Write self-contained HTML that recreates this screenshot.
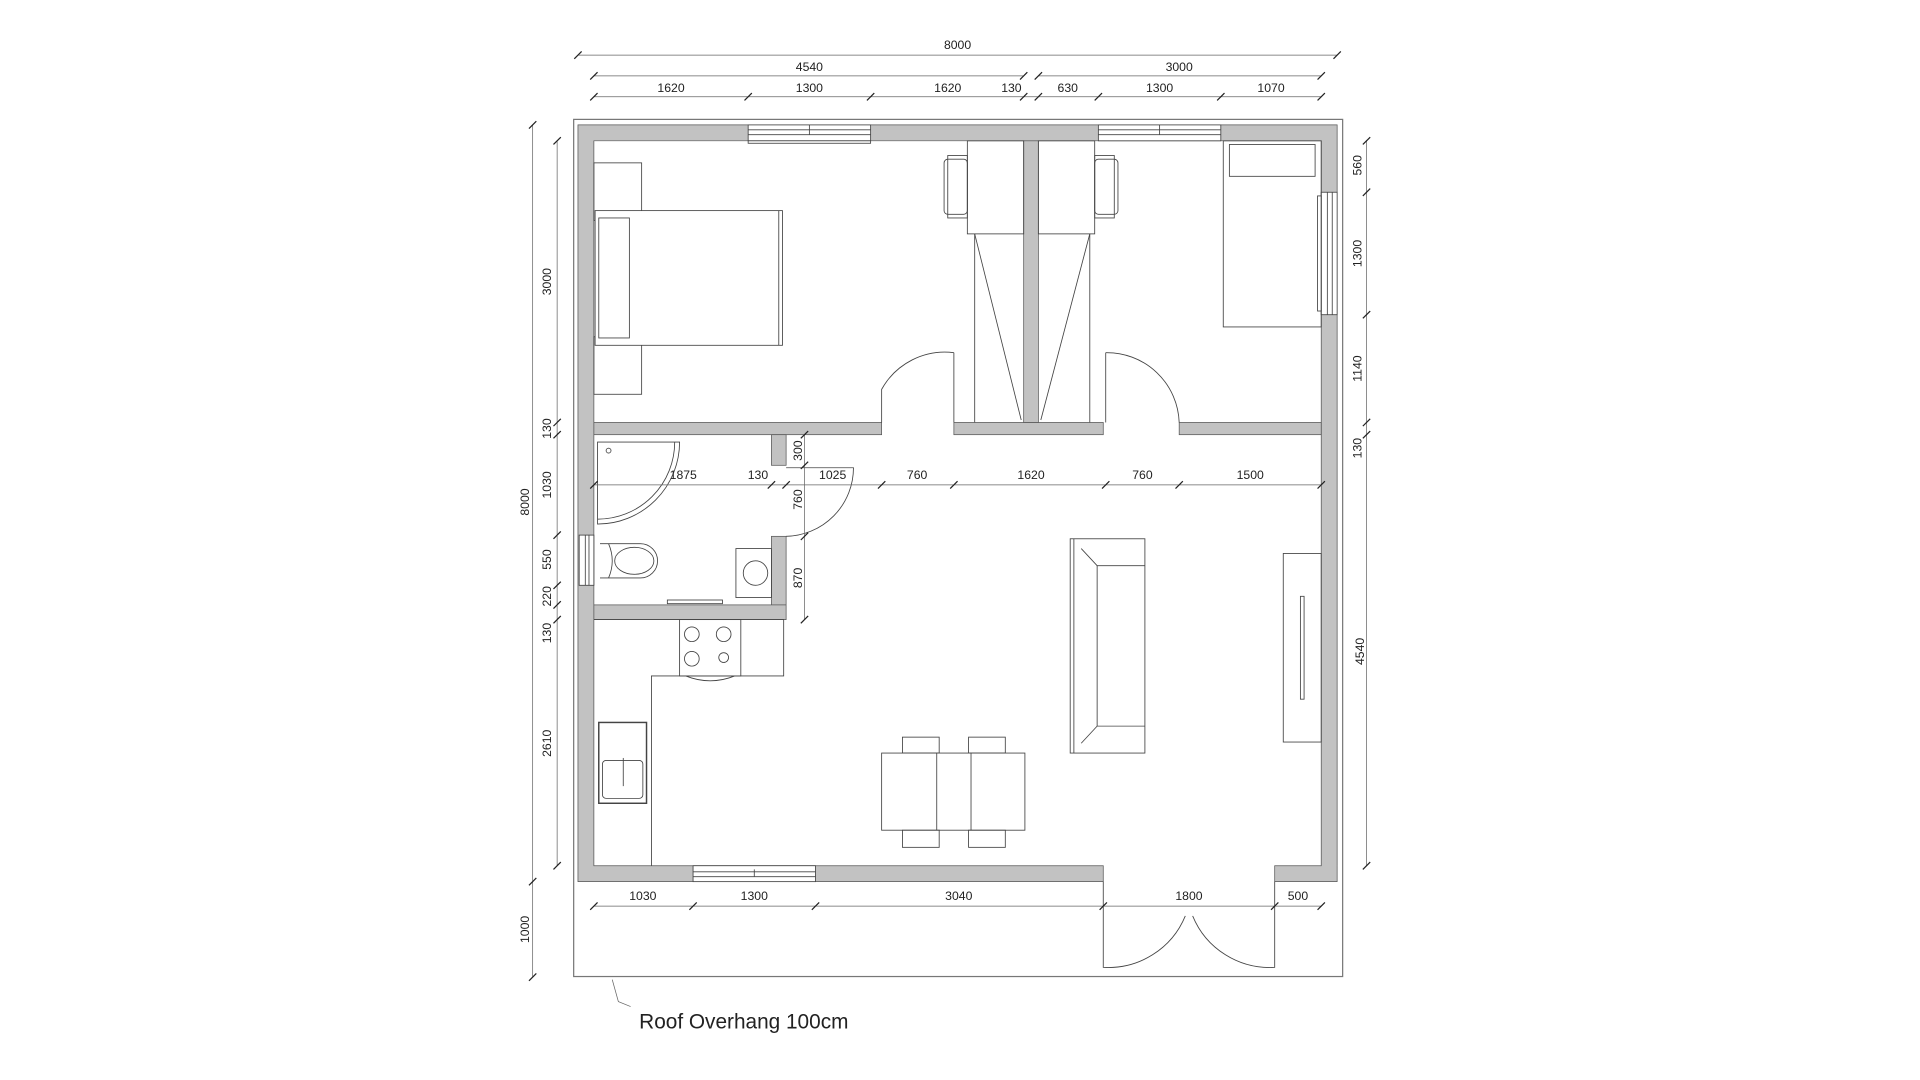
<!DOCTYPE html>
<html><head><meta charset="utf-8"><style>
html,body{margin:0;padding:0;background:#fff;width:1920px;height:1080px;overflow:hidden}
svg{display:block}
text{font-family:"Liberation Sans",sans-serif;font-size:10px;fill:#222}
</style></head><body>
<svg width="1920" height="1080" viewBox="0 0 1568 882" xmlns="http://www.w3.org/2000/svg">
<defs>
<g id="t"><line x1="-3" y1="3" x2="3" y2="-3" stroke="#222" stroke-width="1"/></g>
</defs>
<rect x="468.5" y="97.5" width="628" height="700" fill="none" stroke="#777" stroke-width="1"/>
<g fill="#c2c2c2" stroke="#555" stroke-width="0.6">
<path d="M472 102 H1092 V720 H1041 V707 H1079 V115 H485 V707 H901 V720 H472 Z"/>
<rect x="485" y="345" width="235" height="10"/>
<rect x="779" y="345" width="122" height="10"/>
<rect x="963" y="345" width="116" height="10"/>
<rect x="836" y="115" width="12" height="230"/>
<rect x="630" y="355" width="12" height="25"/>
<rect x="630" y="438" width="12" height="68"/>
<rect x="485" y="494" width="157" height="12"/>
</g>
<g fill="#fff" stroke="#444" stroke-width="0.7">
<rect x="611" y="102" width="100" height="13"/><line x1="611" y1="106" x2="711" y2="106"/><line x1="611" y1="110" x2="711" y2="110"/><line x1="661" y1="102" x2="661" y2="110"/>
<rect x="611" y="115" width="100" height="2"/>
<rect x="897" y="102" width="100" height="13"/><line x1="897" y1="106" x2="997" y2="106"/><line x1="897" y1="110" x2="997" y2="110"/><line x1="947" y1="102" x2="947" y2="110"/>
<rect x="566" y="707" width="100" height="13"/><line x1="566" y1="712" x2="666" y2="712"/><line x1="566" y1="716" x2="666" y2="716"/><line x1="616" y1="710" x2="616" y2="716"/>
<rect x="1079" y="157" width="13" height="100"/><line x1="1084" y1="157" x2="1084" y2="257"/><line x1="1088" y1="157" x2="1088" y2="257"/>
<rect x="1076" y="160" width="3" height="94"/>
<rect x="473" y="437" width="12" height="41"/><line x1="478" y1="437" x2="478" y2="478"/><line x1="481" y1="437" x2="481" y2="478"/>
</g>
<g fill="none" stroke="#444" stroke-width="0.7">
<rect x="485" y="133" width="39" height="47"/><rect x="485" y="275" width="39" height="47"/>
<rect x="486" y="172" width="153" height="110" fill="#fff"/><line x1="636" y1="172" x2="636" y2="282"/>
<rect x="489" y="178" width="25" height="98"/>
<rect x="790" y="115" width="46" height="76"/><rect x="848" y="115" width="46" height="76"/>
<line x1="796" y1="191" x2="796" y2="345"/><line x1="890" y1="191" x2="890" y2="345"/>
<line x1="796" y1="191" x2="834" y2="343"/><line x1="890" y1="191" x2="850" y2="343"/>
<rect x="771" y="130" width="19" height="45" rx="3"/><rect x="774" y="127" width="16" height="51"/>
<rect x="894" y="130" width="19" height="45" rx="3"/><rect x="894" y="127" width="16" height="51"/>
<rect x="999" y="115" width="80" height="152"/><rect x="1004" y="118" width="70" height="26"/>
<path d="M720 345 V318 A59 59 0 0 1 779 288"/><line x1="779" y1="288" x2="779" y2="345"/>
<path d="M963 345 A59 59 0 0 0 903 288"/><line x1="903" y1="288" x2="903" y2="345"/>
<path d="M642 438 A56 56 0 0 0 697 382 H642"/>
<path d="M901 720 V790 A68 68 0 0 0 968 748"/><path d="M1041 720 V790 A68 68 0 0 1 974 748"/>
<path d="M488 361 H555 A67 67 0 0 1 488 428 Z"/><path d="M551 361 A63 63 0 0 1 488 424"/>
<circle cx="497" cy="368" r="2"/>
<path d="M490 444 H523 A14 14 0 0 1 523 472 H490"/><ellipse cx="518" cy="458" rx="16" ry="11"/><path d="M497 444 Q503 458 497 472"/>
<rect x="601" y="448" width="29" height="40"/><circle cx="617" cy="468" r="10"/>
<rect x="545" y="490" width="45" height="3"/>
<path d="M485 506 H640 V552 H532 V707"/>
<rect x="555" y="506" width="50" height="46"/>
<circle cx="565" cy="518" r="6"/><circle cx="591" cy="518" r="6"/><circle cx="565" cy="538" r="6"/><circle cx="591" cy="537" r="4"/>
<path d="M560 552 Q580 560 600 552"/>
<rect x="489" y="590" width="39" height="66" stroke-width="1.2"/><rect x="492" y="621" width="33" height="31" rx="3"/><line x1="509" y1="619" x2="509" y2="642"/>
<rect x="720" y="615" width="117" height="63"/><line x1="765" y1="615" x2="765" y2="678"/><line x1="793" y1="615" x2="793" y2="678"/>
<rect x="737" y="602" width="30" height="13"/><rect x="791" y="602" width="30" height="13"/>
<rect x="737" y="678" width="30" height="14"/><rect x="791" y="678" width="30" height="14"/>
<rect x="874" y="440" width="61" height="175"/><line x1="877" y1="440" x2="877" y2="615"/>
<path d="M935 462 H896 V593 H935"/><line x1="883" y1="448" x2="896" y2="462"/><line x1="883" y1="607" x2="896" y2="593"/>
<rect x="1048" y="452" width="31" height="154"/><rect x="1062" y="487" width="3" height="84"/>
</g>
<g stroke="#666" stroke-width="0.6">
<line x1="472" y1="45" x2="1092" y2="45"/>
<line x1="485" y1="62" x2="836" y2="62"/><line x1="848" y1="62" x2="1079" y2="62"/>
<line x1="485" y1="79" x2="1079" y2="79"/>
<line x1="435" y1="102" x2="435" y2="798"/>
<line x1="455" y1="115" x2="455" y2="707"/>
<line x1="1116" y1="115" x2="1116" y2="707"/>
<line x1="485" y1="396" x2="1079" y2="396"/>
<line x1="657" y1="355" x2="657" y2="506"/>
<line x1="485" y1="740" x2="1079" y2="740"/>
<path d="M500 800 L505 818 L515 822" fill="none"/>
</g>
<g>
<use href="#t" x="472" y="45"/><use href="#t" x="1092" y="45"/>
<use href="#t" x="485" y="62"/><use href="#t" x="836" y="62"/><use href="#t" x="848" y="62"/><use href="#t" x="1079" y="62"/>
<use href="#t" x="485" y="79"/><use href="#t" x="611" y="79"/><use href="#t" x="711" y="79"/><use href="#t" x="836" y="79"/><use href="#t" x="848" y="79"/><use href="#t" x="897" y="79"/><use href="#t" x="997" y="79"/><use href="#t" x="1079" y="79"/>
<use href="#t" x="435" y="102"/><use href="#t" x="435" y="720"/><use href="#t" x="435" y="798"/>
<use href="#t" x="455" y="115"/><use href="#t" x="455" y="345"/><use href="#t" x="455" y="355"/><use href="#t" x="455" y="437"/><use href="#t" x="455" y="478"/><use href="#t" x="455" y="494"/><use href="#t" x="455" y="506"/><use href="#t" x="455" y="707"/>
<use href="#t" x="1116" y="115"/><use href="#t" x="1116" y="157"/><use href="#t" x="1116" y="257"/><use href="#t" x="1116" y="345"/><use href="#t" x="1116" y="355"/><use href="#t" x="1116" y="707"/>
<use href="#t" x="485" y="396"/><use href="#t" x="630" y="396"/><use href="#t" x="642" y="396"/><use href="#t" x="720" y="396"/><use href="#t" x="779" y="396"/><use href="#t" x="903" y="396"/><use href="#t" x="963" y="396"/><use href="#t" x="1079" y="396"/>
<use href="#t" x="657" y="355"/><use href="#t" x="657" y="380"/><use href="#t" x="657" y="438"/><use href="#t" x="657" y="506"/>
<use href="#t" x="485" y="740"/><use href="#t" x="566" y="740"/><use href="#t" x="666" y="740"/><use href="#t" x="901" y="740"/><use href="#t" x="1041" y="740"/><use href="#t" x="1079" y="740"/>
</g>
<g text-anchor="middle">
<text x="782" y="40">8000</text>
<text x="661" y="58">4540</text><text x="963" y="58">3000</text>
<text x="548" y="75">1620</text><text x="661" y="75">1300</text><text x="774" y="75">1620</text><text x="826" y="75">130</text><text x="872" y="75">630</text><text x="947" y="75">1300</text><text x="1038" y="75">1070</text>
<text x="558" y="391">1875</text><text x="619" y="391">130</text><text x="680" y="391">1025</text><text x="749" y="391">760</text><text x="842" y="391">1620</text><text x="933" y="391">760</text><text x="1021" y="391">1500</text>
<text x="525" y="735">1030</text><text x="616" y="735">1300</text><text x="783" y="735">3040</text><text x="971" y="735">1800</text><text x="1060" y="735">500</text>
<text transform="translate(432,410) rotate(-90)">8000</text>
<text transform="translate(432,759) rotate(-90)">1000</text>
<text transform="translate(450,230) rotate(-90)">3000</text>
<text transform="translate(450,350) rotate(-90)">130</text>
<text transform="translate(450,396) rotate(-90)">1030</text>
<text transform="translate(450,457) rotate(-90)">550</text>
<text transform="translate(450,487) rotate(-90)">220</text>
<text transform="translate(450,517) rotate(-90)">130</text>
<text transform="translate(450,607) rotate(-90)">2610</text>
<text transform="translate(1112,135) rotate(-90)">560</text>
<text transform="translate(1112,207) rotate(-90)">1300</text>
<text transform="translate(1112,301) rotate(-90)">1140</text>
<text transform="translate(1112,366) rotate(-90)">130</text>
<text transform="translate(1114,532) rotate(-90)">4540</text>
<text transform="translate(655,368) rotate(-90)">300</text>
<text transform="translate(655,408) rotate(-90)">760</text>
<text transform="translate(655,472) rotate(-90)">870</text>
</g>
<text x="522" y="840" style="font-size:17px">Roof Overhang 100cm</text>
</svg>
</body></html>
